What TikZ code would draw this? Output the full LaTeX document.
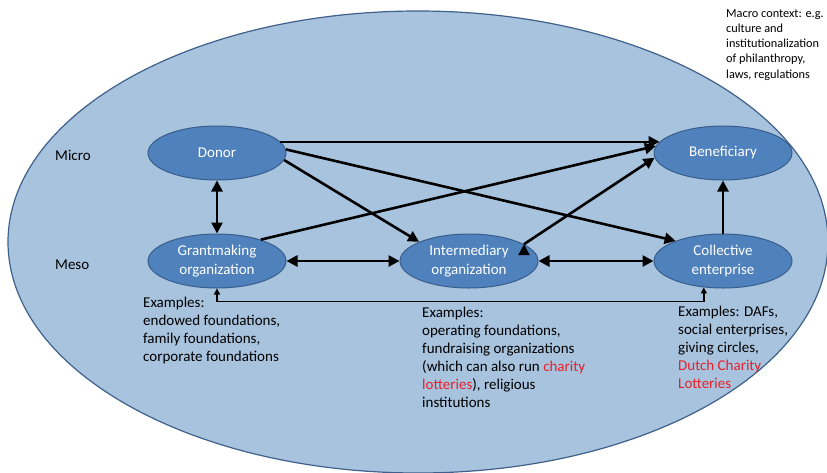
\documentclass[tikz,border=0pt]{standalone}
\usepackage{fontspec}
\setmainfont{Carlito}
\usetikzlibrary{positioning, arrows.meta, shapes}
\definecolor{macroblue}{RGB}{168,195,222}
\definecolor{macroedge}{RGB}{62,96,138}
\definecolor{actorblue}{RGB}{79,129,189}
\definecolor{actoredge}{RGB}{56,93,138}
\definecolor{lotteryred}{RGB}{232,32,42}
\tikzset{->, >={Triangle[length=11pt,width=11pt]}, node distance=53pt,
  actor/.style={ellipse, draw=actoredge, line width=1pt, fill=actorblue, text=white,
    minimum width=138pt, minimum height=54pt, inner sep=0pt, align=center,
    font=\fontsize{15}{18.5}\selectfont},
  note/.style={align=left, inner sep=0pt, anchor=north west, font=\fontsize{15}{18}\selectfont},
  level/.style={anchor=west, inner sep=0pt, font=\fontsize{15}{18}\selectfont}}

\begin{document}
\begin{tikzpicture}[x=1pt, y=-1pt]
    \useasboundingbox (0,0) rectangle (827,472);
    \draw[-, fill=macroblue, draw=macroedge, line width=1.2pt] (418,242) ellipse [x radius=410, y radius=231];
    \node[note, font=\fontsize{12.3}{15.3}\selectfont] (macro) at (726,9) {Macro context: e.g.\\culture and\\institutionalization\\of philanthropy,\\laws, regulations};
    \node[level] (micro) at (55,155) {Micro};
    \node[level] (meso) at (55,265) {Meso};
    \node[actor] (donor) at (217,153) {Donor};
    \node[actor, below=of donor] (grant) {Grantmaking\\organization};
    \node[actor, right=113pt of grant] (inter) {Intermediary\\organization};
    \node[actor, right=115pt of inter] (coll) {Collective\\enterprise};
    \node[actor, above=of coll] (benef) {Beneficiary};
    \draw[line width=2.6pt] (donor.10) edge (benef.170)
        (donor.3) edge (coll.157)
        (donor.-6) edge (inter.159)
        (grant.26) edge (benef.174)
        (inter.17) edge (benef.-176)
        (coll) edge (benef)
        (donor) edge[<->] (grant)
        (grant) edge[<->] (inter)
        (inter) edge[<->] (coll);
    \draw[<->, line width=1.8pt, >={Triangle[length=6pt,width=6pt]}] (grant.south) -- ++(0,13) -| (coll.-126);
    \node[note] (grantex) at (143,297) {Examples:\\endowed foundations,\\family foundations,\\corporate foundations};
    \node[note] (interex) at (422,307) {Examples:\\operating foundations,\\fundraising organizations\\(which can also run \textcolor{lotteryred}{charity}\\\textcolor{lotteryred}{lotteries}), religious\\institutions};
    \node[note] (collex) at (678,306) {Examples: DAFs,\\social enterprises,\\giving circles,\\\textcolor{lotteryred}{Dutch Charity}\\\textcolor{lotteryred}{Lotteries}};
\end{tikzpicture}
\end{document}
